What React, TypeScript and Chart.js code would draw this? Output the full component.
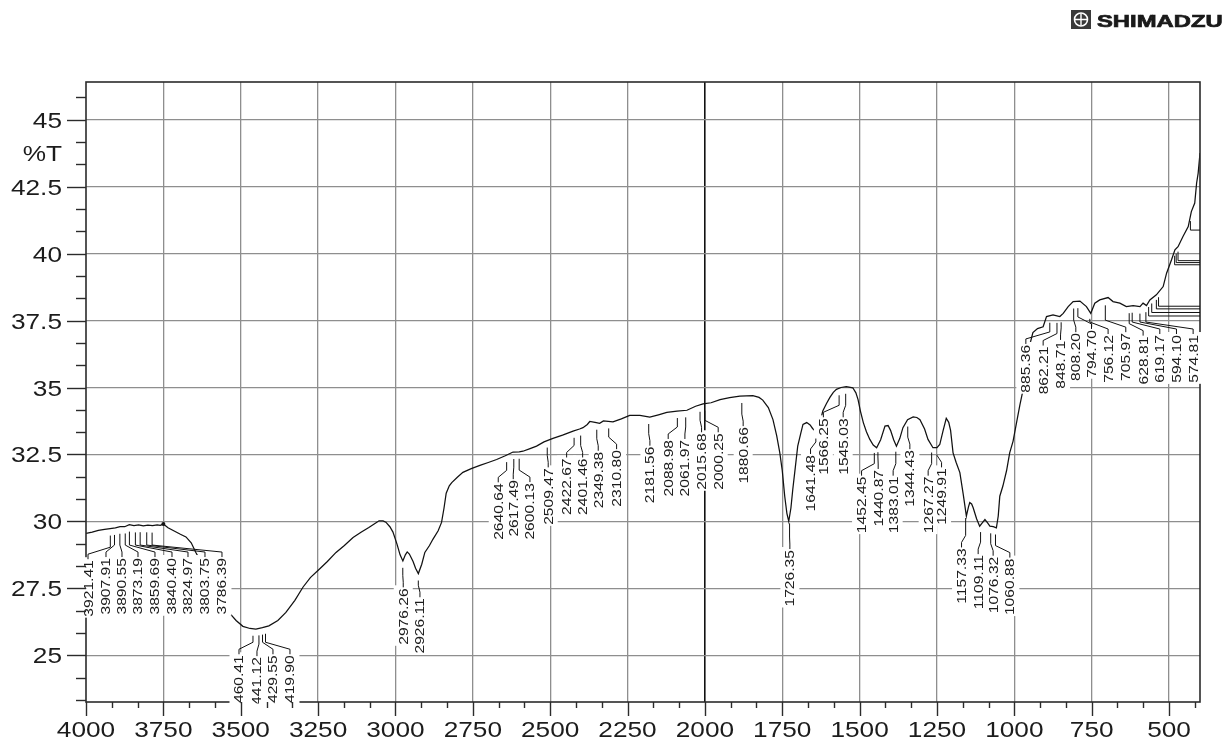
import React, { useEffect, useRef } from 'react';
import { Chart, registerables } from 'chart.js';

Chart.register(...registerables);

// ---- spectrum (wavenumber cm-1, %T) ----
const wavenumbers = [
  4000, 3980, 3960, 3940, 3922, 3905, 3890, 3875, 3860, 3845, 3830, 3815, 3800, 3785, 3770, 3760, 3750,
  3735, 3715, 3695, 3677, 3660, 3645, 3620, 3600, 3575, 3555, 3538, 3515, 3493, 3470, 3451, 3430, 3409,
  3380, 3354, 3325, 3299, 3275, 3247, 3220, 3192, 3165, 3137, 3110, 3086, 3065, 3053, 3040, 3031, 3018,
  3008, 2995, 2985, 2976, 2968, 2962, 2955, 2943, 2935, 2926, 2915, 2905, 2890, 2879, 2862, 2851, 2843,
  2836, 2826, 2818, 2800, 2782, 2755, 2727, 2700, 2673, 2645, 2620, 2600, 2588, 2565, 2544, 2520, 2491,
  2460, 2426, 2405, 2394, 2380, 2372, 2355, 2340, 2328, 2297, 2270, 2243, 2210, 2178, 2150, 2123, 2090,
  2058, 2030, 2006, 1980, 1951, 1920, 1887, 1845, 1825, 1813, 1795, 1780, 1768, 1758, 1750, 1742, 1735,
  1729, 1722, 1716, 1708, 1700, 1690, 1683, 1671, 1660, 1652, 1641, 1630, 1619, 1607, 1596, 1585, 1575,
  1560, 1543, 1522, 1512, 1505, 1497, 1488, 1478, 1467, 1456, 1445, 1432, 1418, 1408, 1400, 1390, 1381,
  1370, 1360, 1345, 1327, 1315, 1305, 1290, 1279, 1263, 1250, 1241, 1230, 1220, 1212, 1206, 1198, 1188,
  1176, 1165, 1155, 1148, 1144, 1138, 1133, 1122, 1112, 1103, 1095, 1087, 1079, 1068, 1058, 1052, 1047,
  1037, 1025, 1015, 1004, 993, 982, 972, 960, 950, 940, 925, 907, 896, 875, 853, 842, 826, 810, 788, 767,
  753, 740, 724, 697, 681, 659, 638, 616, 594, 584, 573, 562, 541, 519, 508, 492, 481, 471, 455, 438, 428,
  417, 411, 406, 400
];
const transmittance = [
  29.55, 29.6, 29.66, 29.7, 29.73, 29.76, 29.8, 29.8, 29.88, 29.84, 29.87, 29.83, 29.86, 29.84, 29.87, 29.85, 29.9,
  29.76, 29.64, 29.52, 29.42, 29.2, 28.84, 28.3, 27.85, 27.3, 26.9, 26.6, 26.3, 26.08, 26.0, 25.98, 26.03, 26.1,
  26.3, 26.6, 27.05, 27.54, 27.9, 28.2, 28.5, 28.84, 29.1, 29.4, 29.6, 29.77, 29.93, 30.02, 30.02, 29.97, 29.8,
  29.6, 29.15, 28.75, 28.52, 28.75, 28.86, 28.78, 28.5, 28.25, 28.05, 28.4, 28.84, 29.1, 29.33, 29.65, 29.96, 30.5,
  31.05, 31.33, 31.45, 31.65, 31.83, 31.97, 32.09, 32.2, 32.31, 32.45, 32.59, 32.6, 32.62, 32.72, 32.81, 32.97, 33.1,
  33.22, 33.37, 33.45, 33.5, 33.62, 33.73, 33.7, 33.66, 33.75, 33.72, 33.83, 33.96, 33.96, 33.89, 33.98, 34.07, 34.12,
  34.15, 34.3, 34.39, 34.43, 34.55, 34.62, 34.68, 34.7, 34.63, 34.53, 34.25, 33.8, 33.2, 32.57, 31.9, 30.94, 30.3,
  30.0, 30.5, 31.19, 32.0, 32.81, 33.3, 33.62, 33.69, 33.6, 33.47, 33.35, 33.6, 34.12, 34.4, 34.63, 34.82, 34.93,
  35.0, 35.03, 34.99, 34.8, 34.55, 34.1, 33.69, 33.35, 33.06, 32.85, 32.75, 33.05, 33.56, 33.58, 33.4, 33.05, 32.81,
  33.1, 33.5, 33.8, 33.9, 33.88, 33.8, 33.45, 33.06, 32.75, 32.75, 32.87, 33.4, 33.85, 33.7, 33.4, 32.56, 32.2,
  31.82, 31.0, 30.2, 30.55, 30.7, 30.65, 30.51, 30.1, 29.82, 29.95, 30.07, 29.95, 29.82, 29.8, 29.76, 30.2, 30.94,
  31.32, 31.9, 32.56, 33.0, 33.68, 34.35, 34.9, 35.9, 36.6, 37.05, 37.2, 37.27, 37.65, 37.71, 37.65, 37.77, 38.02, 38.21, 38.23, 38.02,
  37.77, 38.15, 38.27, 38.36, 38.21, 38.15, 38.02, 38.06, 38.02, 38.15, 38.06, 38.27, 38.46, 38.77, 39.27, 39.77, 40.14, 40.26, 40.64, 41.01, 41.57,
  41.89, 42.63, 43.0, 43.76
];

// ---- peak picking ----
const peakWavenumbers = [
  3921.41, 3907.91, 3890.55, 3873.19, 3859.69, 3840.40, 3824.97, 3803.75, 3786.39,
  3460.41, 3441.12, 3429.55, 3419.90, 2976.26, 2926.11,
  2640.64, 2617.49, 2600.13, 2509.47, 2422.67, 2401.46, 2349.38, 2310.80, 2181.56, 2088.98, 2061.97, 2015.68, 2000.25, 1880.66,
  1726.35, 1641.48, 1566.25, 1545.03, 1452.45, 1440.87, 1383.01, 1344.43, 1267.27, 1249.91,
  1157.33, 1109.11, 1076.32, 1060.88,
  885.36, 862.21, 848.71, 808.20, 794.70, 756.12, 705.97, 628.81, 619.17, 594.10, 574.81
];
// where each peak's text sits (wavenumber of the text column, %T of the text's upper end)
const labelTextWn = [
  3993.5, 3935.4, 3883.7, 3832.0, 3777.1, 3722.1, 3670.4, 3615.5, 3560.6,
  3505.6, 3447.5, 3395.8, 3340.9, 2974.8, 2920.8,
  2667.8, 2619.3, 2565.4, 2506.3, 2446.8, 2395.1, 2344.7, 2285.3, 2177.7, 2118.6, 2064.6, 2010.7, 1957.0, 1876.3,
  1725.4, 1658.6, 1617.1, 1553.1, 1493.7, 1440.0, 1391.6, 1337.6, 1278.5, 1235.2,
  1170.6, 1116.9, 1068.5, 1014.5,
  962.8, 906.9, 850.7, 801.3, 750.6, 697.0, 639.8, 583.8, 529.9, 476.0, 422.2
];
const labelTopT = [
  28.55, 28.63, 28.63, 28.63, 28.63, 28.63, 28.63, 28.63, 28.63,
  25.0, 24.93, 25.0, 25.0, 27.5, 27.13,
  31.42, 31.54, 31.43, 31.98, 32.35, 32.35, 32.6, 32.66, 32.79, 33.04, 33.04, 33.29, 33.29, 33.52,
  28.93, 32.48, 33.85, 33.85, 31.67, 31.92, 31.67, 32.66, 31.67, 31.98,
  28.99, 28.74, 28.68, 28.61,
  36.59, 36.53, 36.74, 37.03, 37.15, 36.96, 37.03, 36.9, 36.96, 36.96, 36.96
];
// peaks whose labels fall beyond the right edge (only their leaders show)
const edgePeaks = [566, 556, 541, 534, 482, 477, 471, 431];

// ---- axes ----
const xTickLabels = ['4000', '3750', '3500', '3250', '3000', '2750', '2500', '2250', '2000', '1750', '1500', '1250', '1000', '750', '500'];
const yTickLabels = ['25', '27.5', '30', '32.5', '35', '37.5', '40', '42.5', '45'];
const yAxisTitle = '%T';
const brandName = 'SHIMADZU';

const X_MIN = 400;
const X_MAX = 4000;
const Y_MIN = 23.254;
const Y_MAX = 46.41;
const FONT = '"Liberation Sans", Arial, sans-serif';
const TICK_STRETCH = 1.22;
const LABEL_STRETCH = 1.25;

function curveAt(wn: number): number {
  for (let i = 0; i < wavenumbers.length - 1; i++) {
    const a = wavenumbers[i];
    const b = wavenumbers[i + 1];
    if (wn <= a && wn >= b) {
      const t = (a - wn) / (a - b);
      return transmittance[i] + t * (transmittance[i + 1] - transmittance[i]);
    }
  }
  return transmittance[transmittance.length - 1];
}

const decorPlugin = {
  id: 'ftirDecor',
  afterDatasetsDraw(chart: any) {
    const { ctx, chartArea: ca, scales } = chart;
    const x = scales.x;
    const y = scales.y;

    // frame
    ctx.save();
    ctx.strokeStyle = '#2b2b2b';
    ctx.lineWidth = 1.6;
    ctx.strokeRect(ca.left, ca.top, ca.right - ca.left, ca.bottom - ca.top);
    ctx.restore();

    // leaders for off-edge peaks
    ctx.save();
    ctx.beginPath();
    ctx.rect(ca.left, ca.top, ca.right - ca.left, ca.bottom - ca.top);
    ctx.clip();
    ctx.strokeStyle = '#111';
    ctx.lineWidth = 1;
    edgePeaks.forEach((wn) => {
      const px = x.getPixelForValue(wn);
      const cy = y.getPixelForValue(curveAt(wn));
      ctx.beginPath();
      ctx.moveTo(px, cy + 5);
      ctx.lineTo(px, cy + 14);
      ctx.lineTo(ca.right, cy + 14);
      ctx.stroke();
    });
    ctx.restore();

    // peak labels
    ctx.save();
    ctx.beginPath();
    ctx.rect(0, 0, chart.width, ca.bottom + 1.5);
    ctx.clip();
    ctx.font = '12.5px ' + FONT;
    const items = peakWavenumbers.map((wn, i) => {
      const text = wn.toFixed(2);
      return {
        text,
        px: x.getPixelForValue(wn),
        cy: y.getPixelForValue(curveAt(wn)),
        tx: x.getPixelForValue(labelTextWn[i]),
        top: y.getPixelForValue(labelTopT[i]),
        len: ctx.measureText(text).width * LABEL_STRETCH,
      };
    });
    ctx.fillStyle = '#ffffff';
    items.forEach((it) => ctx.fillRect(it.tx - 9.5, it.top - 3, 19, it.len + 4));
    ctx.strokeStyle = '#111';
    ctx.lineWidth = 1;
    items.forEach((it) => {
      const start = it.cy + 7;
      const k2 = it.top - 6;
      const k1 = Math.max(start, it.top - 13);
      ctx.beginPath();
      ctx.moveTo(it.px, start);
      ctx.lineTo(it.px, k1);
      ctx.lineTo(it.tx, k2);
      ctx.lineTo(it.tx, it.top - 1);
      ctx.stroke();
    });
    ctx.fillStyle = '#1c1c1c';
    items.forEach((it) => {
      ctx.save();
      ctx.translate(it.tx, it.top);
      ctx.rotate(-Math.PI / 2);
      ctx.scale(LABEL_STRETCH, 1);
      ctx.textAlign = 'right';
      ctx.textBaseline = 'alphabetic';
      ctx.fillText(it.text, 0, 4.5);
      ctx.restore();
    });
    ctx.restore();

    // ticks
    ctx.save();
    ctx.strokeStyle = '#2b2b2b';
    ctx.lineWidth = 1.4;
    const xStep = 250 / 3;
    for (let k = 0; ; k++) {
      const v = X_MAX - k * xStep;
      if (v < X_MIN) break;
      const px = Math.round(x.getPixelForValue(v)) + 0.5;
      const len = k % 3 === 0 ? 14 : 6;
      ctx.beginPath();
      ctx.moveTo(px, ca.bottom);
      ctx.lineTo(px, ca.bottom + len);
      ctx.stroke();
    }
    const yStep = 2.5 / 3;
    for (let k = -3; k < 40; k++) {
      const v = 25 + k * yStep;
      if (v < Y_MIN || v > Y_MAX) continue;
      const py = Math.round(y.getPixelForValue(v)) + 0.5;
      const len = ((k % 3) + 3) % 3 === 0 ? 19 : 10;
      ctx.beginPath();
      ctx.moveTo(ca.left - len, py);
      ctx.lineTo(ca.left, py);
      ctx.stroke();
    }
    ctx.restore();

    // tick labels
    ctx.save();
    ctx.fillStyle = '#1c1c1c';
    ctx.font = '21.5px ' + FONT;
    ctx.textBaseline = 'alphabetic';
    xTickLabels.forEach((lab) => {
      const px = x.getPixelForValue(parseFloat(lab));
      ctx.save();
      ctx.translate(px, ca.bottom + 34.5);
      ctx.scale(TICK_STRETCH, 1);
      ctx.textAlign = 'center';
      ctx.fillText(lab, 0, 0);
      ctx.restore();
    });
    yTickLabels.forEach((lab) => {
      const py = y.getPixelForValue(parseFloat(lab));
      ctx.save();
      ctx.translate(ca.left - 24, py + 8);
      ctx.scale(TICK_STRETCH, 1);
      ctx.textAlign = 'right';
      ctx.fillText(lab, 0, 0);
      ctx.restore();
    });
    const ty = (y.getPixelForValue(45) + y.getPixelForValue(42.5)) / 2;
    ctx.save();
    ctx.translate(ca.left - 24, ty + 8);
    ctx.scale(TICK_STRETCH, 1);
    ctx.textAlign = 'right';
    ctx.fillText(yAxisTitle, 0, 0);
    ctx.restore();
    ctx.restore();

    // brand mark
    ctx.save();
    ctx.fillStyle = '#3a3a3a';
    ctx.fillRect(1071, 10, 20, 19);
    ctx.strokeStyle = '#ffffff';
    ctx.lineWidth = 1.6;
    ctx.beginPath();
    ctx.arc(1081, 19.5, 6.5, 0, Math.PI * 2);
    ctx.stroke();
    ctx.lineWidth = 1.4;
    ctx.beginPath();
    ctx.moveTo(1081, 13.5);
    ctx.lineTo(1081, 25.5);
    ctx.moveTo(1075, 19.5);
    ctx.lineTo(1087, 19.5);
    ctx.stroke();
    ctx.translate(1097, 26.5);
    ctx.scale(1.4, 1);
    ctx.font = 'bold 17px ' + FONT;
    ctx.fillStyle = '#1a1a1a';
    ctx.strokeStyle = '#1a1a1a';
    ctx.lineWidth = 0.7;
    ctx.textAlign = 'left';
    ctx.fillText(brandName, 0, 0);
    ctx.strokeText(brandName, 0, 0);
    ctx.restore();
  },
};

export default function App() {
  const canvasRef = useRef<HTMLCanvasElement | null>(null);

  useEffect(() => {
    document.body.style.margin = '0';
    const canvas = canvasRef.current;
    if (!canvas) return;
    const xGrid = xTickLabels.map((l) => parseFloat(l)).filter((v) => v < X_MAX && v > X_MIN);
    const yGrid = yTickLabels.map((l) => parseFloat(l));
    const chart = new Chart(canvas, {
      type: 'line',
      data: {
        datasets: [
          {
            data: wavenumbers.map((w, i) => ({ x: w, y: transmittance[i] })),
            borderColor: '#111111',
            borderWidth: 1.25,
            tension: 0,
            fill: false,
            pointRadius: (c: any) => (wavenumbers[c.dataIndex] === 3750 ? 2 : 0),
            pointBackgroundColor: '#111111',
            pointBorderWidth: 0,
          },
        ],
      },
      options: {
        animation: false,
        responsive: false,
        maintainAspectRatio: false,
        devicePixelRatio: 1,
        layout: { padding: { top: 82, right: 22, left: 0, bottom: 0 } },
        plugins: { legend: { display: false }, tooltip: { enabled: false } },
        scales: {
          x: {
            type: 'linear',
            reverse: true,
            min: X_MIN,
            max: X_MAX,
            afterBuildTicks: (s: any) => {
              s.ticks = xGrid.map((v) => ({ value: v }));
            },
            afterFit: (s: any) => {
              s.height = 40;
            },
            ticks: { display: false },
            border: { display: false },
            grid: {
              drawTicks: false,
              color: (c: any) => (c.tick && c.tick.value === 2000 ? '#111111' : '#8e8e8e'),
              lineWidth: (c: any) => (c.tick && c.tick.value === 2000 ? 1.6 : 1.3),
            },
          },
          y: {
            type: 'linear',
            min: Y_MIN,
            max: Y_MAX,
            afterBuildTicks: (s: any) => {
              s.ticks = yGrid.map((v) => ({ value: v }));
            },
            afterFit: (s: any) => {
              s.width = 86;
            },
            ticks: { display: false },
            border: { display: false },
            grid: { drawTicks: false, color: '#8e8e8e', lineWidth: 1.3 },
          },
        },
      } as any,
      plugins: [decorPlugin],
    });
    return () => chart.destroy();
  }, []);

  return (
    <div style={{ width: 1222, height: 742, position: 'relative', background: '#fff' }}>
      <canvas ref={canvasRef} width={1222} height={742} style={{ display: 'block', width: 1222, height: 742 }} />
    </div>
  );
}
